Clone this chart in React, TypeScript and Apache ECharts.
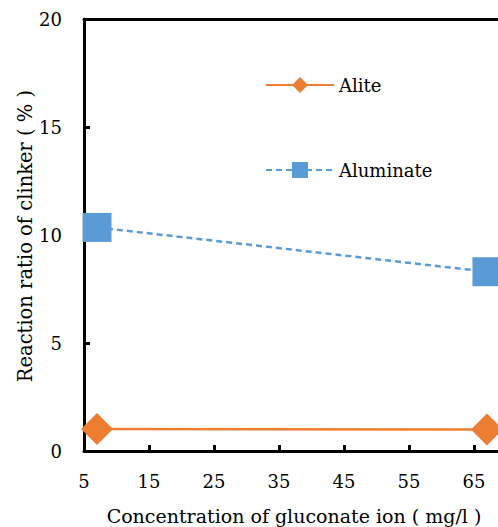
import React, { useEffect, useRef } from "react";
import * as echarts from "echarts";

const concentrations = [7, 67];
const aliteValues = [1.02, 1.0];
const aluminateValues = [10.35, 8.3];
const xTicks = [5, 15, 25, 35, 45, 55, 65];
const yTicks = [0, 5, 10, 15, 20];

const FONT = "DejaVu Serif";

export default function App() {
  const ref = useRef<HTMLDivElement>(null);
  useEffect(() => {
    if (!ref.current) return;
    const chart = echarts.init(ref.current, undefined, { renderer: "svg" });
    const pair = (vals: number[]) => concentrations.map((c, i) => [c, vals[i]]);
    const xMax = 68.7;
    chart.setOption({
      animation: false,
      backgroundColor: "#ffffff",
      grid: { left: 84, top: 19, bottom: 76, right: 0, containLabel: false },
      legend: {
        orient: "vertical",
        left: 265,
        top: 76,
        padding: 0,
        itemWidth: 68,
        itemHeight: 20,
        itemGap: 67,
        itemTextGap: 8,
        textStyle: { fontFamily: FONT, fontSize: 18, color: "#000" },
        data: ["Alite", "Aluminate"],
      },
      xAxis: [
        {
          type: "value",
          min: xTicks[0],
          max: xMax,
          interval: 10,
          axisLine: { show: true, onZero: false, lineStyle: { color: "#000", width: 3 } },
          axisTick: { show: true, inside: true, length: 6, lineStyle: { color: "#000", width: 3 } },
          splitLine: { show: false },
          axisLabel: {
            fontFamily: FONT,
            fontSize: 18,
            color: "#000",
            margin: 21,
            showMaxLabel: false,
            formatter: (v: number) => (xTicks.includes(v) ? String(v) : ""),
          },
        },
        {
          type: "value",
          position: "top",
          min: xTicks[0],
          max: xMax,
          axisLine: { show: true, onZero: false, lineStyle: { color: "#000", width: 3 } },
          axisTick: { show: false },
          axisLabel: { show: false },
          splitLine: { show: false },
        },
      ],
      yAxis: {
        type: "value",
        min: yTicks[0],
        max: yTicks[yTicks.length - 1],
        interval: 5,
        axisLine: { show: true, lineStyle: { color: "#000", width: 3 } },
        axisTick: { show: true, inside: true, length: 6, lineStyle: { color: "#000", width: 3 } },
        splitLine: { show: false },
        axisLabel: { fontFamily: FONT, fontSize: 18, color: "#000", margin: 22 },
      },
      graphic: [
        {
          type: "text",
          x: 294,
          y: 516,
          style: {
            text: "Concentration of gluconate ion ( mg/l )",
            fontFamily: FONT,
            fontSize: 19,
            fill: "#000",
            align: "center",
            verticalAlign: "middle",
          },
        },
        {
          type: "text",
          x: 25,
          y: 236,
          rotation: Math.PI / 2,
          style: {
            text: "Reaction ratio of clinker ( % )",
            fontFamily: FONT,
            fontSize: 19.5,
            fill: "#000",
            align: "center",
            verticalAlign: "middle",
          },
        },
      ],
      series: [
        {
          name: "Alite",
          type: "line",
          data: pair(aliteValues),
          symbol: "diamond",
          symbolSize: 32,
          clip: false,
          itemStyle: { color: "#ED7D31" },
          lineStyle: { color: "#ED7D31", width: 2.5 },
        },
        {
          name: "Aluminate",
          type: "line",
          data: pair(aluminateValues),
          symbol: "rect",
          symbolSize: 29,
          clip: false,
          itemStyle: { color: "#5B9BD5" },
          lineStyle: { color: "#5B9BD5", width: 2.5, type: [6, 4] },
        },
      ],
    });
    return () => chart.dispose();
  }, []);
  return (
    <div
      ref={ref}
      style={{ position: "absolute", left: 0, top: 0, width: 498, height: 527 }}
    />
  );
}
